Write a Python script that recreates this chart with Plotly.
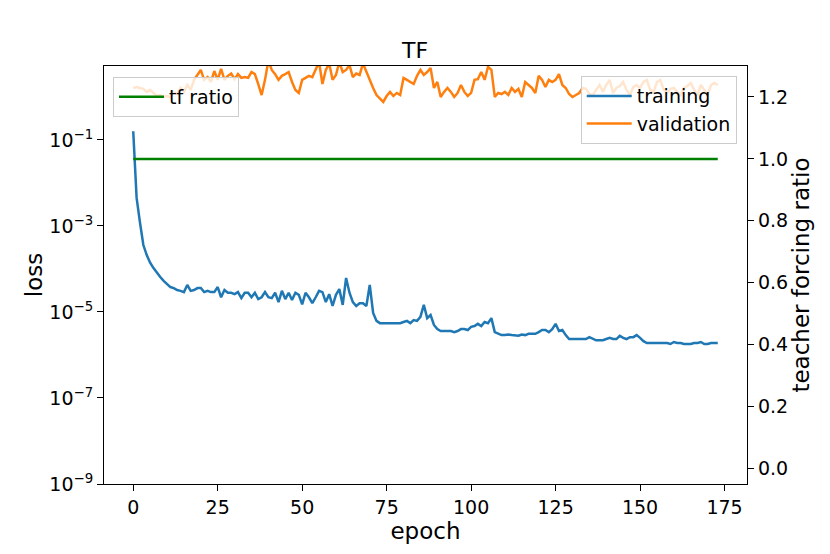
import plotly.graph_objects as go

epochs = list(range(174))

training = [
    1.6e-1, 4.5e-3, 1.2e-3, 3.6e-4, 2.1e-4, 1.4e-4, 1.05e-4, 8.1e-5, 6.5e-5, 5.3e-5,
    4.5e-5, 3.8e-5, 3.6e-5, 3.25e-5, 3.1e-5, 2.9e-5, 4.25e-5, 3.1e-5, 3.25e-5, 3.6e-5,
    3.6e-5, 2.9e-5, 3.1e-5, 2.9e-5, 2.9e-5, 3.8e-5, 2.2e-5, 3.25e-5, 2.8e-5, 2.8e-5,
    2.6e-5, 2.9e-5, 2.1e-5, 2.8e-5, 2.8e-5, 2.2e-5, 2.8e-5, 2.0e-5, 2.2e-5, 2.9e-5,
    2.2e-5, 2.1e-5, 2.8e-5, 1.7e-5, 3.1e-5, 2.0e-5, 2.8e-5, 1.9e-5, 2.8e-5, 2.5e-5,
    1.5e-5, 2.8e-5, 2.2e-5, 1.6e-5, 2.2e-5, 3.1e-5, 2.9e-5, 1.7e-5, 2.6e-5, 1.38e-5,
    2.5e-5, 3.4e-5, 1.46e-5, 6.2e-5, 2.8e-5, 1.7e-5, 1.38e-5, 1.6e-5, 1.6e-5, 1.38e-5,
    4.25e-5, 9.5e-6, 6.2e-6, 5.5e-6, 5.5e-6, 5.5e-6, 5.3e-6, 5.3e-6, 5.5e-6, 5.5e-6,
    5.85e-6, 6.2e-6, 5.5e-6, 6.5e-6, 6.2e-6, 7.7e-6, 1.46e-5, 7.2e-6, 8.5e-6, 5.0e-6,
    4.0e-6, 3.6e-6, 3.6e-6, 3.6e-6, 3.6e-6, 3.4e-6, 3.6e-6, 4.0e-6, 4.0e-6, 3.8e-6,
    4.5e-6, 4.7e-6, 5.3e-6, 4.7e-6, 5.85e-6, 5.5e-6, 7.2e-6, 3.4e-6, 3.1e-6, 2.9e-6,
    2.9e-6, 3.0e-6, 2.9e-6, 2.9e-6, 2.8e-6, 3.0e-6, 2.9e-6, 3.1e-6, 3.1e-6, 3.1e-6,
    3.4e-6, 3.8e-6, 3.8e-6, 3.4e-6, 4.0e-6, 5.3e-6, 3.6e-6, 3.8e-6, 2.9e-6, 2.35e-6,
    2.35e-6, 2.35e-6, 2.35e-6, 2.35e-6, 2.35e-6, 2.6e-6, 2.35e-6, 2.2e-6, 2.2e-6, 2.2e-6,
    2.35e-6, 2.5e-6, 2.35e-6, 2.35e-6, 2.8e-6, 2.5e-6, 2.35e-6, 2.6e-6, 2.6e-6, 2.9e-6,
    2.5e-6, 2.1e-6, 1.9e-6, 1.9e-6, 1.9e-6, 1.9e-6, 1.9e-6, 1.9e-6, 1.9e-6, 1.8e-6,
    2.0e-6, 1.9e-6, 1.9e-6, 1.8e-6, 1.8e-6, 1.8e-6, 1.9e-6, 1.9e-6, 2.0e-6, 1.8e-6,
    1.8e-6, 1.9e-6, 1.9e-6, 1.9e-6,
]

validation = [
    1.62, 1.71, 1.62, 1.55, 1.31, 1.46, 1.24, 1.05, 1.11, 1.0,
    1.05, 1.0, 1.31, 1.17, 1.62, 1.31, 1.9, 1.46, 2.5, 3.25,
    4.25, 2.5, 2.9, 2.23, 4.0, 2.5, 4.5, 2.5, 3.1, 3.5,
    2.6, 3.4, 2.77, 2.9, 2.77, 3.8, 3.4, 2.0, 1.11, 2.5,
    7.0, 4.25, 3.4, 2.5, 3.1, 3.4, 3.8, 2.23, 1.46, 1.24,
    2.5, 2.77, 3.1, 2.9, 4.25, 6.5, 2.0, 4.25, 6.0, 2.5,
    3.25, 6.5, 3.8, 4.25, 5.5, 2.9, 3.5, 3.25, 6.0, 3.8,
    2.5, 1.62, 1.11, 0.9, 0.77, 1.05, 1.31, 1.05, 1.24, 1.11,
    2.77, 2.5, 2.23, 2.0, 3.1, 4.25, 3.25, 3.8, 4.7, 1.62,
    2.23, 1.0, 1.31, 1.62, 1.31, 1.0, 1.24, 1.9, 1.31, 1.05,
    1.24, 2.5, 2.6, 3.8, 2.5, 5.0, 4.25, 1.0, 1.24, 1.17,
    1.31, 1.11, 1.62, 1.31, 1.55, 1.0, 2.23, 1.9, 1.62, 1.24,
    3.1, 2.5, 1.71, 2.5, 2.23, 2.5, 3.4, 1.9, 1.62, 1.17,
    1.0, 1.11, 1.24, 1.62, 1.55, 1.17, 1.11, 1.46, 1.9, 1.31,
    1.9, 2.5, 1.24, 1.62, 1.8, 2.23, 1.46, 1.11, 1.71, 1.9,
    1.62, 2.23, 2.5, 1.46, 1.31, 2.23, 2.5, 1.46, 1.24, 1.55,
    1.62, 1.31, 1.11, 1.62, 1.8, 2.12, 1.46, 1.11, 1.9, 1.46,
    1.11, 1.9, 2.12, 1.9,
]

tf_ratio = [1.0] * 174

loss_ticks = [1e-9, 1e-7, 1e-5, 1e-3, 1e-1]
loss_labels = ["10<sup>\u22129</sup>", "10<sup>\u22127</sup>", "10<sup>\u22125</sup>",
               "10<sup>\u22123</sup>", "10<sup>\u22121</sup>"]
epoch_ticks = [0, 25, 50, 75, 100, 125, 150, 175]
ratio_ticks = [0.0, 0.2, 0.4, 0.6, 0.8, 1.0, 1.2]

font = "DejaVu Sans"

fig = go.Figure()
fig.add_trace(go.Scatter(x=epochs, y=training, mode="lines", name="training",
                         line=dict(color="#1f77b4", width=2.5), legend="legend2",
                         showlegend=True))
fig.add_trace(go.Scatter(x=epochs, y=validation, mode="lines", name="validation",
                         line=dict(color="#ff7f0e", width=2.5), legend="legend2",
                         showlegend=True))
fig.add_trace(go.Scatter(x=epochs, y=tf_ratio, mode="lines", name="tf ratio",
                         line=dict(color="#008000", width=2.5), yaxis="y2", legend="legend",
                         showlegend=True))

legend_style = dict(bgcolor="rgba(255,255,255,0.8)", bordercolor="#cccccc", borderwidth=1,
                    font=dict(family=font, size=19, color="black"), yanchor="top",
                    itemwidth=45, tracegroupgap=0)

axis_style = dict(showgrid=False, zeroline=False, showline=True, linecolor="black",
                  linewidth=1.2, ticks="outside", ticklen=6, tickcolor="black",
                  automargin=False, tickfont=dict(family=font, size=19))

# page body has an 8px margin, so the figure is a bit smaller than the window
fig.update_layout(
    width=814, height=538,
    margin=dict(l=96, r=75, t=58, b=62),
    paper_bgcolor="white", plot_bgcolor="white",
    showlegend=True,
    font=dict(family=font, size=19, color="black"),
    title=dict(text="TF", x=0.5, xanchor="center", y=0.907, yanchor="bottom",
               font=dict(family=font, size=22)),
    xaxis=dict(range=[-8.65, 181.65], tickvals=epoch_ticks, mirror=True,
               title=dict(text="epoch", standoff=0), **axis_style),
    yaxis=dict(type="log", range=[-9, 0.72], tickvals=loss_ticks, ticktext=loss_labels,
               title=dict(text="loss", standoff=0), **axis_style),
    yaxis2=dict(overlaying="y", side="right", range=[-0.05, 1.3], tickvals=ratio_ticks,
                tickformat=".1f", title=dict(text="teacher forcing ratio", standoff=5),
                **axis_style),
    legend=dict(x=0.014, y=0.974, xanchor="left", **legend_style),
    legend2=dict(x=0.984, y=0.976, xanchor="right", **legend_style),
)

fig.write_html("out.html")
